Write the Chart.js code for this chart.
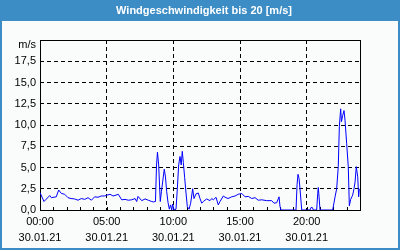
<!DOCTYPE html>
<html>
<head>
<meta charset="utf-8">
<script src="https://cdn.jsdelivr.net/npm/chart.js@4"></script>
<style>
html,body{margin:0;padding:0;background:#fff;}
canvas{display:block;}
</style>
</head>
<body>
<canvas id="c" width="400" height="250"></canvas>
<script>
// ---- data (hours since 00:00 on 30.01.21, wind speed in m/s) ----
const hours = [0.00,0.30,0.73,0.85,1.22,1.40,1.60,1.85,2.10,2.33,2.60,2.85,3.10,3.35,3.60,3.85,4.10,4.35,4.60,4.85,
  5.03,5.25,5.48,5.70,5.87,6.13,6.38,6.62,6.88,7.13,7.25,7.35,7.63,7.88,8.12,8.38,8.50,8.66,8.74,8.81,
  8.90,9.02,9.11,9.20,9.32,9.41,9.50,9.60,9.70,9.79,9.88,9.95,10.05,10.20,10.30,10.40,10.50,10.59,10.67,10.75,
  10.85,10.95,11.05,11.18,11.30,11.45,11.55,11.70,11.87,12.00,12.13,12.25,12.50,12.75,12.88,13.00,13.20,13.37,13.50,13.75,
  13.88,14.10,14.38,14.63,14.87,15.13,15.38,15.62,15.88,16.13,16.37,16.63,17.00,17.38,17.55,17.75,17.93,18.00,18.08,19.20,
  19.28,19.35,19.43,19.50,19.63,20.25,20.33,20.42,20.50,20.75,20.83,20.87,20.93,21.00,21.95,22.13,22.25,22.37,22.45,22.55,
  22.61,22.70,22.80,22.88,23.00,23.12,23.20,23.30,23.45,23.55,23.63,23.72,23.83,23.90,23.95];
const speed = [2.05,1.0,1.7,1.45,1.55,2.35,1.95,1.85,1.45,1.35,1.3,1.15,1.35,1.25,1.45,1.15,1.55,1.5,1.65,1.65,
  1.75,1.85,1.65,1.75,1.85,1.2,1.25,1.15,1.2,1.35,1.0,1.6,1.1,1.3,1.15,1.0,0.95,1.0,5.3,6.8,
  5.3,1.0,2.2,3.3,4.8,3.9,2.2,0.9,0.1,0.6,0.0,0.7,0.0,0.1,2.5,5.3,6.3,5.3,6.9,5.6,
  3.8,2.0,0.4,0.1,0.8,2.5,1.35,1.9,2.0,1.35,0.8,1.0,1.3,1.1,1.35,1.2,1.5,0.6,1.0,1.65,
  1.5,1.35,1.55,1.65,1.85,1.95,1.55,1.6,1.35,1.45,1.15,1.2,1.1,1.1,0.8,0.85,1.55,0.4,0.0,0.0,
  3.0,4.2,3.7,2.5,0.0,0.0,0.3,0.3,0.0,0.0,1.95,2.65,1.55,0.0,0.0,1.55,2.5,5.1,9.8,11.9,
  10.4,11.1,11.7,10.5,7.8,5.1,0.5,1.25,1.75,2.5,3.3,5.1,3.9,1.55,2.5];
const majorHours = [0,5,10,15,20];
const dateLabel = '30.01.21';
const titleText = 'Windgeschwindigkeit bis 20 [m/s]';
const unitText = 'm/s';

const points = hours.map((h,i)=>({x:h, y:speed[i]}));
const fmtHour = h => String(h).padStart(2,'0') + ':00';
const FONT = '"Liberation Sans", Arial, sans-serif';

const framePlugin = {
  id:'frame',
  beforeDraw(chart){
    const ctx = chart.ctx;
    ctx.save();
    ctx.fillStyle = '#3c8dc5';
    ctx.fillRect(0,0,400,250);
    ctx.fillStyle = '#fafcfb';
    ctx.fillRect(2,21,396,227);
    ctx.restore();
  },
  beforeDatasetsDraw(chart){
    const {ctx, chartArea:a, scales} = chart;
    ctx.save();
    ctx.strokeStyle = '#000';
    ctx.lineWidth = 1;
    const l = Math.round(a.left), t = Math.round(a.top), r = Math.round(a.right), b = Math.round(a.bottom);
    ctx.strokeRect(l+0.5, t+0.5, r-l, b-t);
    // minor hour ticks pointing into the plot
    const xs = scales.x;
    ctx.beginPath();
    xs.ticks.forEach(tk=>{
      const px = Math.round(xs.getPixelForValue(tk.value))+0.5;
      ctx.moveTo(px, b);
      ctx.lineTo(px, b-3);
    });
    ctx.stroke();
    // unit label at top of y axis
    ctx.fillStyle = '#000';
    ctx.font = '11px ' + FONT;
    ctx.textAlign = 'right';
    ctx.textBaseline = 'middle';
    ctx.fillText(unitText, a.left-4, a.top+5);
    ctx.restore();
  }
};

new Chart(document.getElementById('c'), {
  type:'line',
  data:{datasets:[{data:points, borderColor:'#0000ff', borderWidth:1, pointRadius:0, tension:0, fill:false}]},
  options:{
    responsive:false, animation:false, devicePixelRatio:1,
    layout:{padding:{left:8,right:0,top:0,bottom:0}},
    plugins:{
      legend:{display:false}, tooltip:{enabled:false},
      title:{display:true, text:titleText, color:'#ffffff',
        font:{family:FONT, size:11, weight:'bold', lineHeight:1.2},
        padding:{top:4,bottom:22.8}}
    },
    scales:{
      x:{type:'linear', min:0, max:24,
        afterFit(s){ s.height = 40; },
        ticks:{stepSize:1, autoSkip:false, maxRotation:0, padding:4, color:'#000',
          font:{family:FONT, size:11, lineHeight:'16px'},
          callback:(v)=> majorHours.includes(v) ? [fmtHour(v), dateLabel] : ''},
        grid:{drawTicks:false,
          color:(c)=> (c.tick && majorHours.includes(c.tick.value) && c.tick.value!==0) ? '#000' : 'rgba(0,0,0,0)'},
        border:{display:false, dash:[4,3]}
      },
      y:{min:0, max:20,
        afterFit(s){ s.width = 32; },
        ticks:{stepSize:2.5, padding:4, color:'#000',
          font:{family:FONT, size:11},
          callback:(v)=> v>=20 ? '' : v.toFixed(1).replace('.',',')},
        grid:{drawTicks:false,
          color:(c)=> (c.tick && c.tick.value>0 && c.tick.value<20) ? '#000' : 'rgba(0,0,0,0)'},
        border:{display:false, dash:[4,3]}
      },
      yRight:{position:'right', min:0, max:20,
        afterFit(s){ s.width = 40; },
        ticks:{display:false}, grid:{display:false}, border:{display:false}
      }
    }
  },
  plugins:[framePlugin]
});
</script>
</body>
</html>
